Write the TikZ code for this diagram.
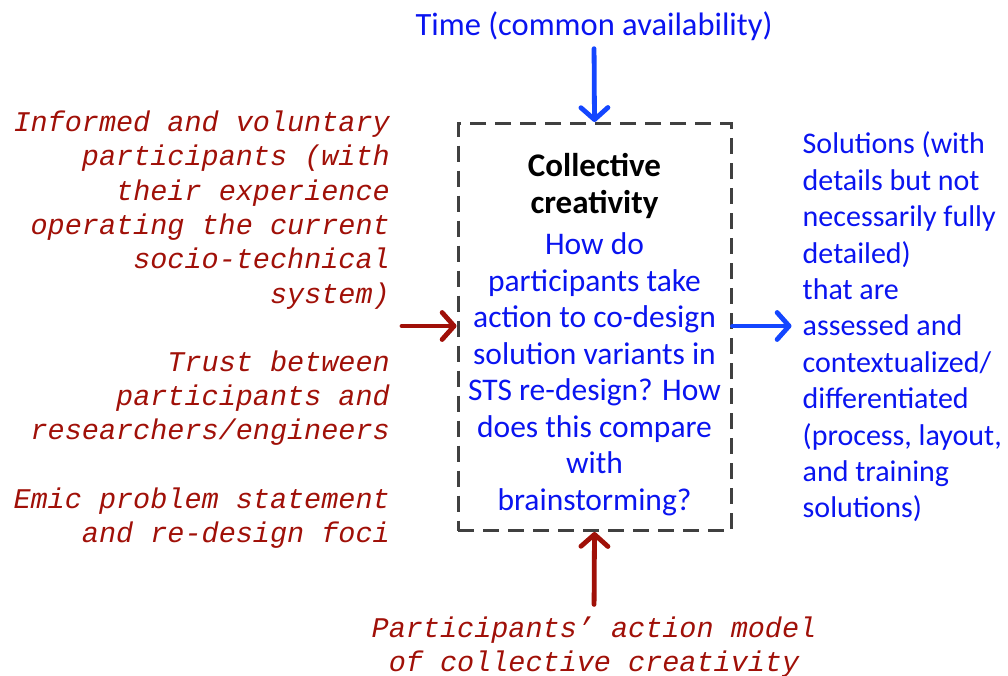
\documentclass[tikz,border=0pt]{standalone}
\usepackage{fontspec}
\setmainfont{Carlito}
\newfontfamily\monofam{Liberation Mono}
\usetikzlibrary{arrows.meta,positioning}
\definecolor{qblue}{HTML}{0A14F0}
\definecolor{arrblue}{HTML}{1446FF}
\definecolor{qred}{HTML}{A01008}
\definecolor{boxgray}{HTML}{404040}
\newcommand{\cchead}[1]{\textcolor{black}{\fontsize{33}{36.5}\selectfont\textbf{#1}}}

\begin{document}
\begin{tikzpicture}[x=1pt,y=-1pt,
  ccbox/.style={draw=boxgray,line width=3pt,dash pattern=on 16pt off 9pt,
    minimum width=273pt,minimum height=407pt,align=center,inner sep=0pt,
    text=qblue,font=\fontsize{31.5}{36.5}\selectfont},
  redtxt/.style={text=qred,font=\monofam\itshape\fontsize{28.5}{34.3}\selectfont,
    align=right,inner sep=0pt},
  bluetxt/.style={text=qblue,font=\fontsize{30}{36.4}\selectfont,inner sep=0pt},
  arr/.style={-{Straight Barb[length=12pt,width=27pt,round]},line width=4.8pt,line cap=round},
  redarr/.style={arr,draw=qred}, bluearr/.style={arr,draw=arrblue}]
\useasboundingbox (0,0) rectangle (1008,675);
\node[ccbox] (cc) at (594.5,327)
  {\rule{0pt}{38pt}\cchead{Collective}\\\cchead{creativity}\\[5pt]
   How do\\participants take\\action to co-design\\solution variants in\\STS re-design? How\\
   does this compare\\with\\brainstorming?};
\node[bluetxt,font=\fontsize{32.5}{36.5}\selectfont] (time) at (594,26) {Time (common availability)};
\node[bluetxt,align=left,right=70pt of cc] (sol)
  {Solutions (with\\details but not\\necessarily fully\\detailed)\\that are\\assessed and\\
   contextualized/\\differentiated\\(process, layout,\\and training\\solutions)};
\node[redtxt,anchor=east] (informed) at (390,210)
  {Informed and voluntary\\participants (with\\their experience\\operating the current\\
   socio-technical\\system)};
\node[redtxt,anchor=east] (trust) at (390,398)
  {Trust between\\participants and\\researchers/engineers};
\node[redtxt,anchor=east] (emic) at (390,518)
  {Emic problem statement\\and re-design foci};
\node[redtxt,align=center] (model) at (594,647)
  {Participants’ action model\\of collective creativity};
\coordinate (inleft) at (402,326);
% inputs and output
\draw[bluearr,shorten <=8pt] (time.south) -- (cc.north);
\draw[redarr] (inleft) -- (inleft -| cc.west);
\draw[redarr,shorten <=12pt] (model.north) -- (cc.south);
\draw[bluearr,shorten >=11pt] (cc.east |- inleft) -- (sol.west |- inleft);
\end{tikzpicture}
\end{document}
